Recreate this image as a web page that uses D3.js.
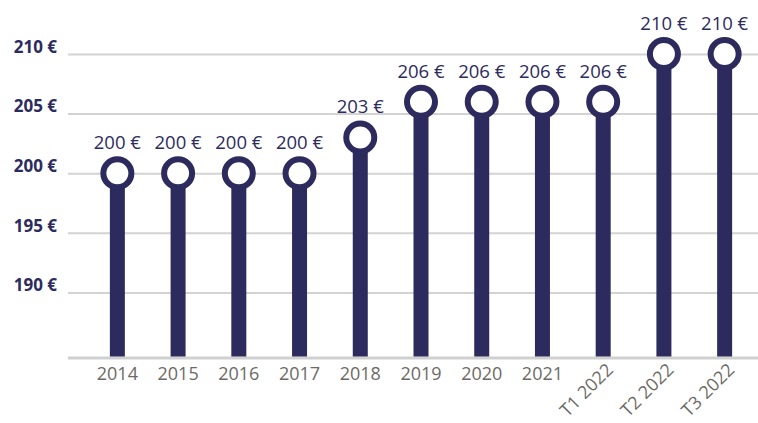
<!DOCTYPE html>
<html>
<head>
<meta charset="utf-8">
<script src="https://cdn.jsdelivr.net/npm/d3@7"></script>
<style>
  body { margin: 0; background: #fff; }
  svg { display: block; font-family: "Open Sans", sans-serif; }
</style>
</head>
<body>
<svg id="chart" width="758" height="423"></svg>
<script>
const periods = ["2014", "2015", "2016", "2017", "2018", "2019", "2020", "2021", "T1 2022", "T2 2022", "T3 2022"]
const prices = [200, 200, 200, 200, 203, 206, 206, 206, 206, 210, 210]
const yTicks = [190, 195, 200, 205, 210]

const navy = '#2d2b5e'
const svg = d3.select('#chart')

const xScale = d3.scaleBand()
	.domain(periods)
	.range([87, 755])

const yScale = d3.scaleLinear()
	.domain([184.5, 210])
	.range([358, 54])

// gridlines + y labels
const yAxis = d3.axisLeft(yScale)
	.tickValues(yTicks)
	.tickSize(-(758 - 68))
	.tickPadding(11)
	.tickFormat(d => d + ' €')

svg.append('g')
	.attr('transform', 'translate(68,0)')
	.call(yAxis)
	.attr('font-family', '"Open Sans", sans-serif')
	.call(g => g.select('.domain').remove())
	.call(g => g.selectAll('.tick line').attr('stroke', '#d3d3d3').attr('stroke-width', 2))
	.call(g => g.selectAll('.tick text')
		.attr('fill', navy)
		.style('font-size', '17px')
		.style('font-weight', 'bold')
		.attr('dy', '-0.1em'))

// baseline
svg.append('line')
	.attr('x1', 68).attr('x2', 758)
	.attr('y1', yScale(184.5)).attr('y2', yScale(184.5))
	.attr('stroke', '#d0d0d0')
	.attr('stroke-width', 3)

const cx = d => xScale(d) + xScale.bandwidth() / 2

// stems
svg.append('g')
	.selectAll('rect')
	.data(periods)
	.join('rect')
	.attr('x', d => cx(d) - 7.5)
	.attr('width', 15)
	.attr('y', (d, i) => yScale(prices[i]))
	.attr('height', (d, i) => yScale(184.5) - yScale(prices[i]) - 1.5)
	.attr('fill', navy)

// circles
svg.append('g')
	.selectAll('circle')
	.data(periods)
	.join('circle')
	.attr('cx', cx)
	.attr('cy', (d, i) => yScale(prices[i]))
	.attr('r', 14)
	.attr('fill', '#fff')
	.attr('stroke', navy)
	.attr('stroke-width', 6)

// value labels
svg.append('g')
	.selectAll('text')
	.data(periods)
	.join('text')
	.attr('x', cx)
	.attr('y', (d, i) => yScale(prices[i]) - 24)
	.attr('text-anchor', 'middle')
	.attr('fill', navy)
	.style('font-size', '18.5px')
	.text((d, i) => prices[i] + ' €')

// x labels
svg.append('g')
	.selectAll('text')
	.data(periods)
	.join('text')
	.attr('fill', '#6d6a66')
	.style('font-size', '18px')
	.each(function(d) {
		const t = d3.select(this)
		if (d.startsWith('T')) {
			t.attr('text-anchor', 'end')
				.attr('transform', `translate(${cx(d) + 11},${371}) rotate(-45)`)
		} else {
			t.attr('text-anchor', 'middle')
				.attr('x', cx(d))
				.attr('y', 380)
		}
	})
	.text(d => d)
</script>
</body>
</html>
